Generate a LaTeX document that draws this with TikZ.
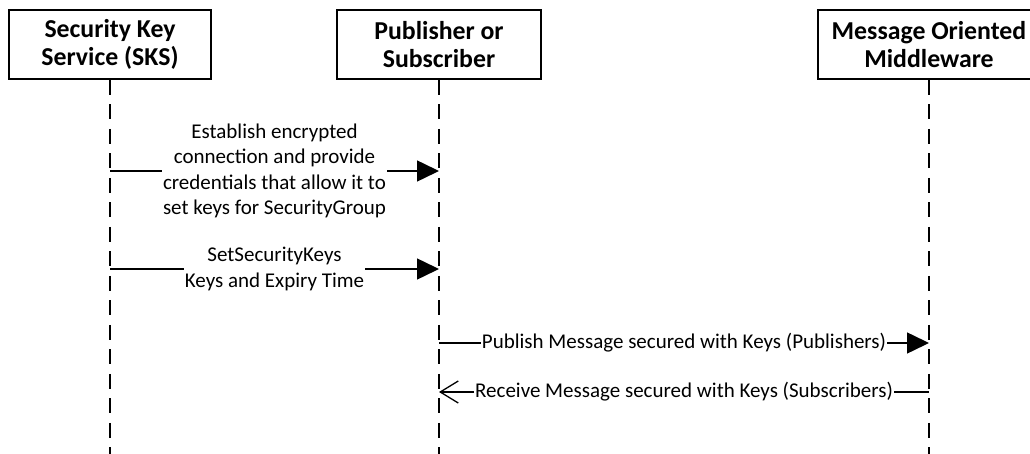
\documentclass[tikz,border=0pt]{standalone}
\usepackage{fontspec}
\setmainfont{Carlito}
\usetikzlibrary{arrows.meta}
\begin{document}
\begin{tikzpicture}[x=1pt,y=-1pt,
  actor/.style={draw, line width=1.6pt, minimum height=69pt, align=center,
    font=\fontsize{25.8}{27.7}\selectfont\bfseries, inner sep=0pt},
  life/.style={line width=1.5pt, dash pattern=on 15pt off 9.5pt},
  msg/.style={line width=1.5pt},
  lbl/.style={fill=white, align=center, font=\fontsize{21}{25.5}\selectfont,
    inner xsep=1pt, inner ysep=1pt},
  filled/.style={-{Triangle[length=22pt,width=21pt]}},
  openhead/.style={-{Straight Barb[length=18pt,width=22pt,line width=1.3pt]}},
]
\useasboundingbox (0,0) rectangle (1030,454);
\node[actor, minimum width=202pt] (sks) at (110,44.5) {Security Key\\Service (SKS)};
\node[actor, minimum width=204pt] (pub) at (439,44.5) {Publisher or\\Subscriber};
\node[actor, minimum width=222pt] (mom) at (929,44.5) {Message Oriented\\Middleware};

\coordinate (sksb) at (110,454);
\coordinate (pubb) at (439,454);
\coordinate (momb) at (929,454);
\draw[life] (sks.south) -- (sksb);
\draw[life] (pub.south) -- (pubb);
\draw[life] (mom.south) -- (momb);

\coordinate (a1s) at (110,171);
\coordinate (a1e) at (439,171);
\coordinate (a2s) at (110,269);
\coordinate (a2e) at (439,269);
\coordinate (a3s) at (439,343);
\coordinate (a3e) at (929,343);
\coordinate (a4s) at (929,392);
\coordinate (a4e) at (439,392);

\draw[msg, filled] (a1s) -- node[lbl] {Establish encrypted\\connection and provide\\credentials that allow it to\\set keys for SecurityGroup} (a1e);
\draw[msg, filled] (a2s) -- node[lbl] {SetSecurityKeys\\Keys and Expiry Time} (a2e);
\draw[msg, filled] (a3s) -- node[lbl] {Publish Message secured with Keys (Publishers)} (a3e);
\draw[msg, openhead] (a4s) -- node[lbl] {Receive Message secured with Keys (Subscribers)} (a4e);
\end{tikzpicture}
\end{document}
